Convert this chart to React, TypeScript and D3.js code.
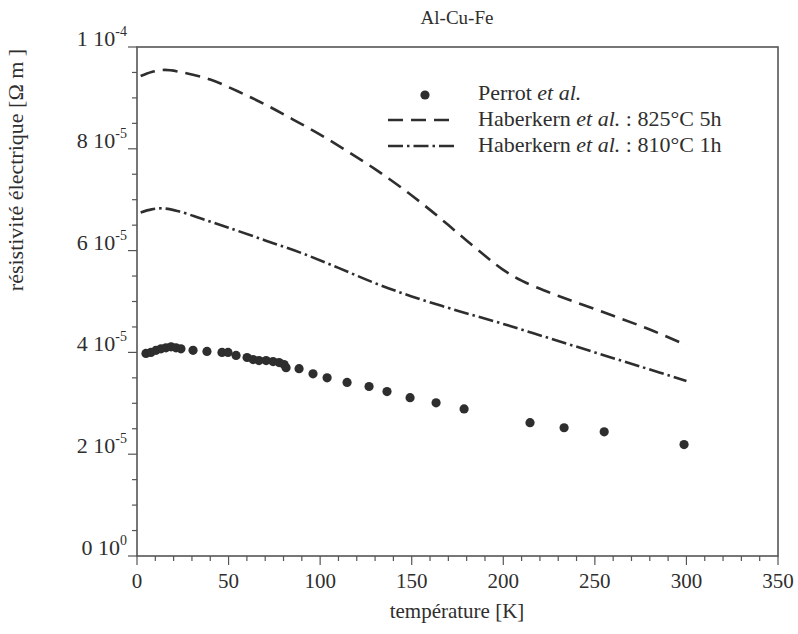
import React from "react";
import * as d3 from "d3";

// Perrot et al. measurements (T in K, resistivity in 1e-5 Ohm m)
const perrotT = [4.9, 7.6, 10.4, 13.1, 15.8, 18.6, 21.3, 24.0, 30.6, 38.2, 46.4, 49.7, 54.1, 60.1, 63.4, 66.6, 70.5, 74.3, 77.6, 80.3, 81.4, 88.5, 96.1, 103.8, 114.7, 126.7, 136.5, 149.1, 163.3, 178.6, 214.6, 233.2, 255.1, 298.7];
const perrotRho = [3.98, 4.0, 4.04, 4.07, 4.09, 4.11, 4.09, 4.07, 4.04, 4.02, 4.0, 4.0, 3.94, 3.9, 3.86, 3.84, 3.84, 3.82, 3.8, 3.76, 3.7, 3.68, 3.58, 3.5, 3.41, 3.33, 3.23, 3.11, 3.01, 2.89, 2.62, 2.52, 2.44, 2.19];

// Haberkern et al. 825°C 5h
const h825T = [2, 8, 15, 25, 40, 55, 70, 85, 100, 115, 130, 145, 160, 175, 190, 200, 210, 225, 240, 260, 280, 300];
const h825Rho = [9.43, 9.51, 9.55, 9.5, 9.36, 9.13, 8.87, 8.58, 8.28, 7.95, 7.6, 7.22, 6.8, 6.35, 5.9, 5.62, 5.41, 5.18, 4.98, 4.72, 4.45, 4.14];

// Haberkern et al. 810°C 1h
const h810T = [2, 8, 14, 22, 35, 50, 70, 90, 110, 130, 150, 175, 200, 225, 250, 275, 300];
const h810Rho = [6.75, 6.81, 6.83, 6.78, 6.63, 6.45, 6.2, 5.95, 5.66, 5.36, 5.1, 4.82, 4.56, 4.28, 4.0, 3.72, 3.44];

const xTicks = [0, 50, 100, 150, 200, 250, 300, 350];
const yTickMant = ["0", "2", "4", "6", "8", "1"];
const yTickExp = ["0", "-5", "-5", "-5", "-5", "-4"];
const yTickVals = [0, 2e-5, 4e-5, 6e-5, 8e-5, 1e-4];

const legendLabels = ["Perrot ", "Haberkern ", "Haberkern "];
const legendSuffix = ["", " : 825°C 5h", " : 810°C 1h"];

const W = 798;
const H = 634;
const FONT = "Liberation Serif, Times New Roman, Times, DejaVu Serif, serif";
const INK = "#2e2e2e";

export default function App() {
  const x = d3.scaleLinear().domain([0, 350]).range([137, 778]);
  const y = d3.scaleLinear().domain([0, 1e-4]).range([556, 47]);

  const line = d3
    .line<[number, number]>()
    .x((d) => x(d[0]))
    .y((d) => y(d[1] * 1e-5))
    .curve(d3.curveCatmullRom.alpha(0.5));

  const d825 = line(h825T.map((t, i) => [t, h825Rho[i]]))!;
  const d810 = line(h810T.map((t, i) => [t, h810Rho[i]]))!;

  const minorX = d3.range(0, 351, 10);
  const minorY = d3.range(0, 1e-4 + 1e-12, 0.5e-5);

  const [x0, x1] = x.range();
  const [y0, y1] = y.range();

  const dash825 = "15,8";
  const dash810 = "15,4,2.5,4";

  return (
    <svg
      width={W}
      height={H}
      style={{ position: "absolute", left: 0, top: 0, background: "#fff", fontFamily: FONT }}
    >
      <rect x={0} y={0} width={W} height={H} fill="#fff" />
      {/* title */}
      <text x={457} y={24} textAnchor="middle" fontSize={19} fill={INK}>
        Al-Cu-Fe
      </text>

      {/* frame */}
      <rect x={x0} y={y1} width={x1 - x0} height={y0 - y1} fill="none" stroke="#555" strokeWidth={1.6} />

      {/* x ticks */}
      {minorX.map((v) => (
        <line key={"mx" + v} x1={x(v)} x2={x(v)} y1={y0} y2={y0 + (v % 50 === 0 ? 9 : 5)} stroke="#555" strokeWidth={1.2} />
      ))}
      {xTicks.map((v) => (
        <text key={"xt" + v} x={x(v)} y={588} textAnchor="middle" fontSize={21} fill={INK}>
          {v}
        </text>
      ))}
      <text x={457} y={618} textAnchor="middle" fontSize={21} fill={INK}>
        température [K]
      </text>

      {/* y ticks */}
      {minorY.map((v, i) => (
        <line key={"my" + i} x1={x0 - (i % 4 === 0 ? 9 : 5)} x2={x0} y1={y(v)} y2={y(v)} stroke="#555" strokeWidth={1.2} />
      ))}
      {yTickVals.map((v, i) => (
        <text key={"yt" + i} x={127} y={y(v) - 1} textAnchor="end" fontSize={22} fill={INK}>
          {yTickMant[i] + " 10"}
          <tspan fontSize={14} dy={-10}>
            {yTickExp[i]}
          </tspan>
        </text>
      ))}
      <text
        transform={`translate(23,170) rotate(-90)`}
        textAnchor="middle"
        fontSize={22}
        fill={INK}
      >
        résistivité électrique [Ω m ]
      </text>

      {/* curves */}
      <path d={d825} fill="none" stroke={INK} strokeWidth={2.6} strokeDasharray={dash825} />
      <path d={d810} fill="none" stroke={INK} strokeWidth={2.6} strokeDasharray={dash810} />

      {/* points */}
      {perrotT.map((t, i) => (
        <circle key={"p" + i} cx={x(t)} cy={y(perrotRho[i] * 1e-5)} r={4.6} fill={INK} />
      ))}

      {/* legend */}
      <circle cx={425} cy={95} r={4.6} fill={INK} />
      <line x1={388} x2={456} y1={120} y2={120} stroke={INK} strokeWidth={2.6} strokeDasharray={dash825} />
      <line x1={388} x2={456} y1={146} y2={146} stroke={INK} strokeWidth={2.6} strokeDasharray={dash810} />
      {legendLabels.map((lab, i) => (
        <text key={"lg" + i} x={478} y={100 + i * 26} fontSize={22} fill={INK}>
          {lab}
          <tspan fontStyle="italic">et al.</tspan>
          {legendSuffix[i]}
        </text>
      ))}
    </svg>
  );
}
